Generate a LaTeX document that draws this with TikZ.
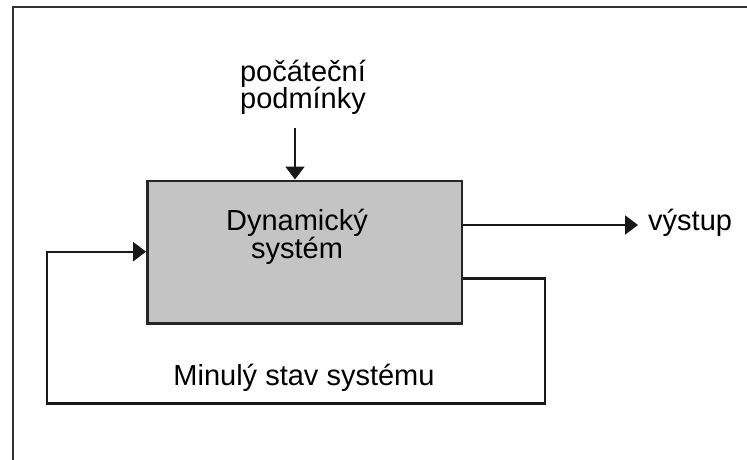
\documentclass[tikz,border=0pt]{standalone}
\usepackage{fontspec}
\setmainfont{Liberation Sans}
\usetikzlibrary{arrows.meta,positioning}
\begin{document}
\begin{tikzpicture}[x=1pt,y=-1pt,line width=2.4pt,box/.style={draw=black!85,fill=black!23,minimum width=314.4pt,minimum height=142.6pt,inner sep=0pt},lbl/.style={align=center,font=\fontsize{29}{27.5}\selectfont,inner sep=0pt},arr/.style={-{Triangle[length=13pt,width=19pt]},line width=2.4pt,black!90}]
\useasboundingbox (0,0) rectangle (747,459);
\clip (0,0) rectangle (747,459);
\draw[black!80] (12.7,6.7) rectangle (800,500);
\node[box] (sys) at (304.5,252) {};
\node[lbl,anchor=base] (name) at (297,258.3) {Dynamický\\systém};
\node[lbl,anchor=base] (init) at (303,108.5) {počáteční\\podmínky};
\coordinate (initend) at (295,128);
\node[lbl,anchor=base west] (out) at (647,230) {výstup};
\node[lbl,anchor=base] (past) at (304,385) {Minulý stav systému};
\draw[arr] (initend) -- (sys.north -| initend);
\draw[arr] (sys.east |- 0,225) -- ([xshift=-9pt]out.west |- 0,225);
\draw[arr] (sys.east |- 0,278.3) -| (545,403.3) -| (46.7,251.7) -- (sys.west |- 0,251.7);
\end{tikzpicture}
\end{document}
